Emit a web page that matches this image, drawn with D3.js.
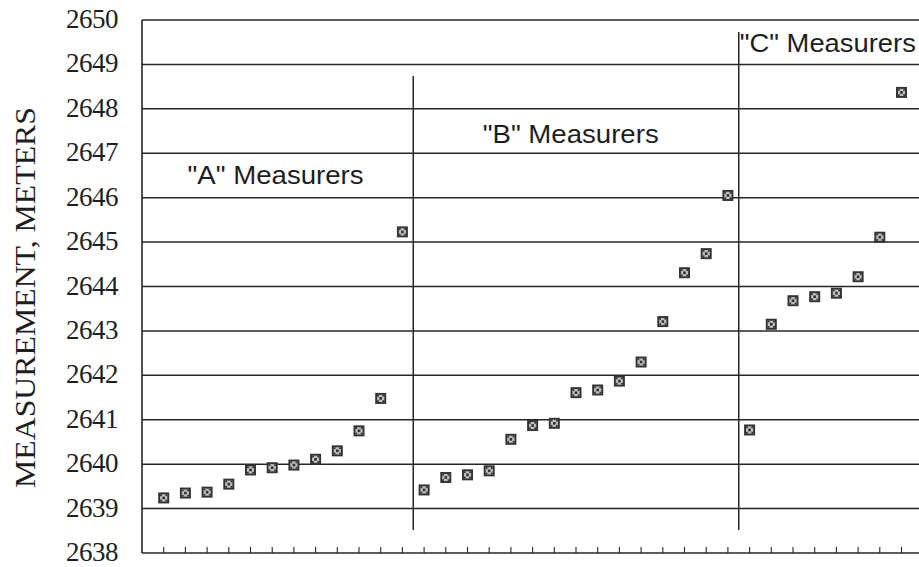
<!DOCTYPE html>
<html>
<head>
<meta charset="utf-8">
<script src="https://cdn.jsdelivr.net/npm/d3@7"></script>
<style>
  html, body { margin: 0; padding: 0; background: #fff; }
  svg { display: block; }
</style>
</head>
<body>
<svg id="chart" width="919" height="567"></svg>
<script>
// ---- data ----
const groupNames = ['"A" Measurers', '"B" Measurers', '"C" Measurers'];
const groupA = [2639.24, 2639.35, 2639.37, 2639.55, 2639.87, 2639.92, 2639.98, 2640.11, 2640.30, 2640.75, 2641.48, 2645.23];
const groupB = [2639.42, 2639.70, 2639.76, 2639.85, 2640.56, 2640.87, 2640.92, 2641.61, 2641.67, 2641.87, 2642.30, 2643.21, 2644.31, 2644.74, 2646.05];
const groupC = [2640.77, 2643.15, 2643.68, 2643.77, 2643.85, 2644.22, 2645.11, 2648.37];
const yTicks = [2638, 2639, 2640, 2641, 2642, 2643, 2644, 2645, 2646, 2647, 2648, 2649, 2650];
const yTitle = "MEASUREMENT, METERS";

// ---- layout ----
const svg = d3.select("#chart");
const x = d3.scaleLinear().domain([0, 36]).range([142, 142 + 36 * 21.7]);
const y = d3.scaleLinear().domain([2638, 2650]).range([553, 20]);
const ink = "#262626";

// build point list
const series = [groupA, groupB, groupC];
const points = [];
let idx = 1;
series.forEach((vals, g) => vals.forEach(v => { points.push({ i: idx++, v, g }); }));

// gridlines
svg.append("g").selectAll("line").data(yTicks).join("line")
  .attr("x1", x(0)).attr("x2", 919)
  .attr("y1", d => y(d)).attr("y2", d => y(d))
  .attr("stroke", ink).attr("stroke-width", 1.5);

// left axis line
svg.append("line").attr("x1", x(0)).attr("x2", x(0))
  .attr("y1", y(2650)).attr("y2", y(2638))
  .attr("stroke", ink).attr("stroke-width", 1.6);

// bottom ticks
const xTickIdx = d3.range(1, 37);
svg.append("g").selectAll("line").data(xTickIdx).join("line")
  .attr("x1", d => x(d)).attr("x2", d => x(d))
  .attr("y1", y(2638)).attr("y2", y(2638) - 6)
  .attr("stroke", ink).attr("stroke-width", 1.1);

// group separators
const separators = [
  { at: 12.5, top: 2648.74, bottom: 2638.52 },
  { at: 27.5, top: 2649.73, bottom: 2638.52 }
];
svg.append("g").selectAll("line").data(separators).join("line")
  .attr("x1", d => x(d.at)).attr("x2", d => x(d.at))
  .attr("y1", d => y(d.top)).attr("y2", d => y(d.bottom))
  .attr("stroke", ink).attr("stroke-width", 1.5);

// y tick labels
svg.append("g").selectAll("text").data(yTicks).join("text")
  .attr("x", 118).attr("y", d => y(d) + 8)
  .attr("text-anchor", "end")
  .attr("font-family", "'Liberation Serif', 'Times New Roman', serif")
  .attr("font-size", 27).attr("fill", "#1e1e1e")
  .attr("letter-spacing", -0.5)
  .text(d => d);

// y title
svg.append("text")
  .attr("transform", "translate(35,297.5) rotate(-90)")
  .attr("text-anchor", "middle")
  .attr("font-family", "'Liberation Serif', 'Times New Roman', serif")
  .attr("font-size", 30).attr("fill", "#1e1e1e")
  .attr("textLength", 381).attr("lengthAdjust", "spacingAndGlyphs")
  .text(yTitle);

// group labels
const labelPos = [
  { xi: 2.1, v: 2646.3 },
  { xi: 15.7, v: 2647.23 },
  { xi: 27.55, v: 2649.27 }
];
svg.append("g").selectAll("text").data(groupNames).join("text")
  .attr("x", (d, k) => x(labelPos[k].xi))
  .attr("y", (d, k) => y(labelPos[k].v))
  .attr("font-family", "'Liberation Sans', Arial, sans-serif")
  .attr("font-size", 26).attr("fill", "#1e1e1e")
  .attr("textLength", 176).attr("lengthAdjust", "spacingAndGlyphs")
  .text(d => d);

// markers
const mk = svg.append("g").selectAll("g").data(points).join("g")
  .attr("transform", d => `translate(${x(d.i)},${y(d.v)})`);
mk.append("rect").attr("x", -5.5).attr("y", -5.5).attr("width", 11).attr("height", 11)
  .attr("fill", "#333");
mk.append("rect").attr("x", -3.6).attr("y", -3.6).attr("width", 7.2).attr("height", 7.2)
  .attr("fill", "#bdbdbd");
mk.append("rect").attr("x", -1.3).attr("y", -1.3).attr("width", 2.6).attr("height", 2.6)
  .attr("fill", "#333");
mk.append("g").selectAll("rect").data([[-3.6,-3.6],[1.8,-3.6],[-3.6,1.8],[1.8,1.8]]).join("rect")
  .attr("x", d => d[0]).attr("y", d => d[1]).attr("width", 1.8).attr("height", 1.8)
  .attr("fill", "#333");
</script>
</body>
</html>
